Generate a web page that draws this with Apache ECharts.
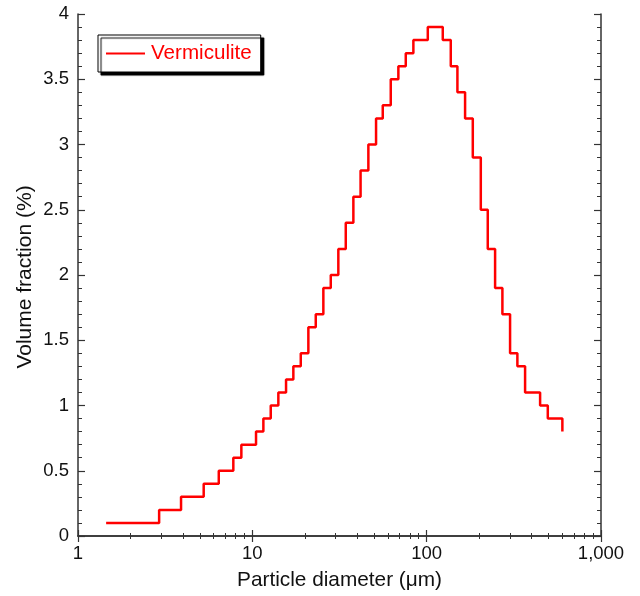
<!DOCTYPE html>
<html>
<head>
<meta charset="utf-8">
<script src="https://cdn.jsdelivr.net/npm/echarts@6/dist/echarts.min.js"></script>
<style>
html,body{margin:0;padding:0;background:#fff;}
#c{width:640px;height:596px;}
</style>
</head>
<body>
<div id="c"></div>
<script>
// Bin left edges (particle diameter, µm) and volume fraction (%) of each bin
var binEdges = [1.45, 2.92, 3.90, 5.26, 6.42, 7.78, 8.65, 10.5, 11.57, 12.75, 14.1, 15.61, 17.19, 18.96,
  20.96, 23.11, 25.55, 28.18, 31.14, 34.35, 37.98, 41.77, 46.3, 51.25, 55.99, 62.23, 68.81, 75.88, 83.9, 101.5,
  123.7, 137.5, 150.1, 166.1, 183.9, 204.4, 224.1, 246.9, 271.9, 300.9, 331.4, 366.9, 447.4, 495.2, 600.4];
var volumeFraction = [0.1, 0.2, 0.3, 0.4, 0.5, 0.6, 0.7, 0.8, 0.9, 1.0, 1.1, 1.2, 1.3, 1.4,
  1.6, 1.7, 1.9, 2.0, 2.2, 2.4, 2.6, 2.8, 3.0, 3.2, 3.3, 3.5, 3.6, 3.7, 3.8, 3.9,
  3.8, 3.6, 3.4, 3.2, 2.9, 2.5, 2.2, 1.9, 1.7, 1.4, 1.3, 1.1, 1.0, 0.9, 0.8];
var seriesName = 'Vermiculite';
var xAxisTitle = 'Particle diameter (μm)';
var yAxisTitle = 'Volume fraction (%)';
var xTickLabels = {1: '1', 10: '10', 100: '100', 1000: '1,000'};
var yTickLabels = ['0', '0.5', '1', '1.5', '2', '2.5', '3', '3.5', '4'];

var data = binEdges.map(function (x, i) { return [x, volumeFraction[i]]; });
var axisColor = '#333';
var font = 'Liberation Sans, Arial, sans-serif';

var chart = echarts.init(document.getElementById('c'), null, {renderer: 'canvas'});
chart.setOption({
  animation: false,
  backgroundColor: '#fff',
  grid: {left: 78, top: 14, right: 39, bottom: 58, containLabel: false},
  graphic: [{
    type: 'text',
    x: 25.5, y: 277,
    rotation: Math.PI / 2,
    style: {
      text: yAxisTitle,
      fill: '#111',
      fontSize: 21,
      fontFamily: font,
      align: 'center',
      verticalAlign: 'middle'
    }
  }],
  legend: {
    left: 98, top: 35,
    padding: [8, 9, 8, 8],
    backgroundColor: '#fff',
    borderColor: '#000',
    borderWidth: 1,
    borderRadius: 0,
    shadowColor: '#000',
    shadowBlur: 1,
    shadowOffsetX: 3,
    shadowOffsetY: 3,
    itemWidth: 39,
    itemHeight: 20,
    itemGap: 0,
    icon: 'path://M0,9 L39,9 L39,11 L0,11 Z',
    textStyle: {color: '#ff0000', fontSize: 20.6, fontFamily: font, padding: [0, 0, 0, 1]},
    data: [seriesName]
  },
  xAxis: [{
    type: 'log', logBase: 10, min: 1, max: 1000,
    position: 'bottom',
    name: xAxisTitle, nameLocation: 'middle', nameGap: 34,
    nameTextStyle: {fontSize: 20.8, fontFamily: font, color: '#111'},
    axisLine: {lineStyle: {color: axisColor, width: 1.5}},
    axisTick: {inside: true, length: 6, lineStyle: {color: axisColor, width: 1.2}},
    minorTick: {show: true, splitNumber: 9, length: 3, lineStyle: {color: axisColor, width: 1}},
    axisLabel: {fontSize: 18.5, fontFamily: font, color: '#111', margin: 8,
      formatter: function (v) { return xTickLabels[Math.round(v)] || ''; }},
    splitLine: {show: false}
  }, {
    type: 'log', logBase: 10, min: 1, max: 1000,
    position: 'top',
    axisLine: {lineStyle: {color: axisColor, width: 1.5}},
    axisTick: {inside: true, length: 6, lineStyle: {color: axisColor, width: 1.2}},
    minorTick: {show: true, splitNumber: 9, length: 3, lineStyle: {color: axisColor, width: 1}},
    axisLabel: {show: false},
    splitLine: {show: false}
  }],
  yAxis: [{
    type: 'value', min: 0, max: 4, interval: 0.5,
    position: 'left',
    axisLine: {show: true, lineStyle: {color: axisColor, width: 1.5}},
    axisTick: {show: true, inside: true, length: 7, lineStyle: {color: axisColor, width: 1.2}},
    minorTick: {show: true, splitNumber: 5, length: 4, lineStyle: {color: axisColor, width: 1}},
    axisLabel: {fontSize: 18.5, fontFamily: font, color: '#111', margin: 9,
      formatter: function (v) { return yTickLabels[Math.round(v * 2)]; }},
    splitLine: {show: false}
  }, {
    type: 'value', min: 0, max: 4, interval: 0.5,
    position: 'right',
    axisLine: {show: true, lineStyle: {color: axisColor, width: 1.5}},
    axisTick: {show: true, inside: true, length: 7, lineStyle: {color: axisColor, width: 1.2}},
    minorTick: {show: true, splitNumber: 5, length: 4, lineStyle: {color: axisColor, width: 1}},
    axisLabel: {show: false},
    splitLine: {show: false}
  }],
  series: [{
    name: seriesName,
    type: 'line',
    step: 'end',
    showSymbol: false,
    symbol: 'none',
    xAxisIndex: 0, yAxisIndex: 0,
    lineStyle: {color: '#ff0000', width: 2.5},
    itemStyle: {color: '#ff0000'},
    data: data
  }]
});
</script>
</body>
</html>
